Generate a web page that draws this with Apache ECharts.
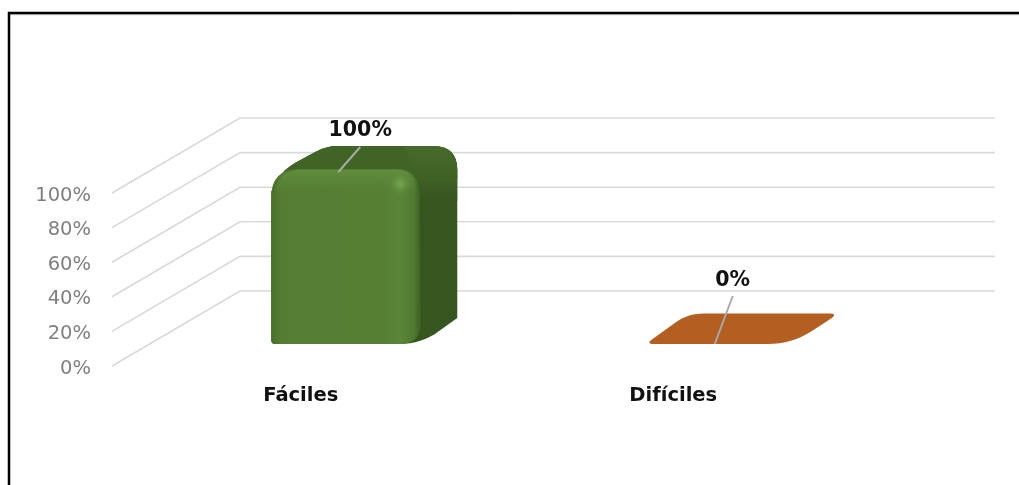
<!DOCTYPE html>
<html>
<head>
<meta charset="utf-8">
<style>html,body{margin:0;padding:0;background:#fff}#c{width:1019px;height:485px}</style>
<script src="https://cdn.jsdelivr.net/npm/echarts@6/dist/echarts.min.js"></script>
</head>
<body>
<div id="c"></div>
<script>
const categories = ['Fáciles', 'Difíciles'];
const values = [100, 0];
const yTicks = [0, 20, 40, 60, 80, 100];

// drawing constants of the pseudo-3D projection (pixels)
const WALL = [128, -75];
const FONT = '"DejaVu Sans", Verdana, sans-serif';
const looks = [
  { face: '#567e33', top: '#3f6426', side: '#37551f', lead: [[67, -172], [89, -197]], lab: [89, -213] },
  { face: '#b45f22', top: '#b45f22', side: '#b45f22', lead: [[66, 0], [84, -48]], lab: [84, -63] }
];

function roundPoly(pts, ox, oy) {
  const out = [], n = pts.length;
  for (let i = 0; i < n; i++) {
    const p = pts[i], a = pts[(i + n - 1) % n], b = pts[(i + 1) % n], r = p[2] || 0;
    const la = Math.hypot(a[0] - p[0], a[1] - p[1]), lb = Math.hypot(b[0] - p[0], b[1] - p[1]);
    const s = [p[0] + (a[0] - p[0]) * r / la, p[1] + (a[1] - p[1]) * r / la];
    const e = [p[0] + (b[0] - p[0]) * r / lb, p[1] + (b[1] - p[1]) * r / lb];
    for (let k = 0; k <= 8; k++) {
      const t = k / 8, u = 1 - t;
      out.push([ox + u * u * s[0] + 2 * u * t * p[0] + t * t * e[0], oy + u * u * s[1] + 2 * u * t * p[1] + t * t * e[1]]);
    }
  }
  return out;
}
const grad = (x2, y2, stops) => ({ type: 'linear', x: 0, y: 0, x2, y2,
  colorStops: stops.map(s => ({ offset: s[0], color: s[1] })) });

function renderWall(params, api) {
  const cs = params.coordSys;
  const y = api.coord([0, api.value(0)])[1];
  return { type: 'polyline', silent: true,
    shape: { points: [[cs.x, y], [cs.x + WALL[0], y + WALL[1]], [cs.x + cs.width + WALL[0], y + WALL[1]]] },
    style: { fill: null, stroke: '#d9d9d9', lineWidth: 1.6 } };
}

function renderBar(params, api) {
  const i = params.dataIndex, v = api.value(1);
  const base = api.coord([api.value(0), 0]), top = api.coord([api.value(0), v]);
  const h = base[1] - top[1], L = looks[i];
  const x0 = base[0] - 29.5, y0 = base[1] - 22;
  const kids = [];
  const poly = (pts, fill) => kids.push({ type: 'polygon', silent: true, shape: { points: roundPoly(pts, x0, y0) }, style: { fill } });
  if (h > 0.5) {
    // silhouette: side face
    poly([[0, -h + 5, 28], [55, -h - 25, 12], [186, -h - 25, 24], [186, -26, 0], [150, 0, 22], [0, 0, 4]], L.side);
    // top face
    poly([[0, -h + 5, 28], [55, -h - 25, 12], [186, -h - 25, 24], [186, -h + 8, 0], [150, -h + 14, 0], [0, -h + 20, 0]], L.top);
    // lighter rounded corner of the top face, fading into the side
    poly([[134, -h - 25, 0], [186, -h - 25, 24], [186, -h + 30, 0], [150, -h + 30, 0]],
      grad(0, 1, [[0, '#466b2b'], [0.45, '#416427'], [1, L.side]]));
    // front face
    poly([[0, -h - 2, 28], [148, -h - 2, 24], [150, 0, 22], [0, 0, 4]],
      grad(1, 0, [[0, '#4a6f2b'], [0.07, '#557d33'], [0.74, '#567e33'], [0.86, '#5a8639'], [0.95, '#4f7a30'], [1, '#3d5f24']]));
    poly([[4, -h - 1, 26], [144, -h - 1, 20], [144, -h + 22, 0], [4, -h + 22, 0]],
      grad(0, 1, [[0, 'rgba(98,142,62,0.9)'], [0.6, 'rgba(92,134,57,0.5)'], [1, 'rgba(86,126,51,0)']]));
    kids.push({ type: 'circle', silent: true, shape: { cx: x0 + 129, cy: y0 - h + 13, r: 11 },
      style: { fill: { type: 'radial', x: 0.5, y: 0.5, r: 0.5, colorStops: [
        { offset: 0, color: 'rgba(116,168,80,1)' }, { offset: 1, color: 'rgba(100,150,66,0)' }] } } });
  } else {
    poly([[-3, 0, 8], [39, -30.5, 16], [190, -30.5, 10], [143, 0, 24]], L.top);
  }
  const leadAt = p => [x0 + p[0], y0 + p[1] - (i === 0 ? h - 173 : 0)];
  kids.push({ type: 'line', silent: true,
    shape: { x1: leadAt(L.lead[0])[0], y1: leadAt(L.lead[0])[1], x2: leadAt(L.lead[1])[0], y2: leadAt(L.lead[1])[1] },
    style: { stroke: '#a9a9a9', lineWidth: 2 } });
  kids.push({ type: 'text', silent: true,
    style: { x: x0 + L.lab[0], y: y0 + L.lab[1], text: v + '%', align: 'center', verticalAlign: 'middle',
      fill: '#111', font: 'bold 20.5px ' + FONT } });
  return { type: 'group', children: kids };
}

const chart = echarts.init(document.getElementById('c'));
chart.setOption({
  animation: false,
  backgroundColor: '#fff',
  grid: { left: 112, width: 755, top: 193, bottom: 119 },
  xAxis: { type: 'category', data: categories,
    axisLine: { show: false }, axisTick: { show: false }, splitLine: { show: false },
    axisLabel: { margin: 20, color: '#111', fontFamily: FONT, fontWeight: 'bold', fontSize: 19.5,
      formatter: (v, i) => i === 1 ? '{d|' + v + '}' : v,
      rich: { d: { padding: [0, 10, 0, 0], color: '#111', fontFamily: FONT, fontWeight: 'bold', fontSize: 19.5 } } } },
  yAxis: { type: 'value', min: 0, max: 100, interval: 20,
    axisLine: { show: false }, axisTick: { show: false }, splitLine: { show: false },
    axisLabel: { margin: 21, formatter: v => '{t|' + v + '%}', color: '#7f7f7f', fontFamily: FONT, fontSize: 19.5,
      rich: { t: { padding: [5, 0, 0, 0], color: '#7f7f7f', fontFamily: FONT, fontSize: 19.5 } } } },
  series: [
    { type: 'custom', name: 'wall', z: 1, clip: false, silent: true, renderItem: renderWall,
      data: yTicks.map(v => [v]), encode: { y: 0 }, coordinateSystem: 'cartesian2d' },
    { type: 'custom', name: 'bars', z: 2, clip: false, renderItem: renderBar,
      data: categories.map((c, i) => [i, values[i]]), encode: { x: 0, y: 1 } }
  ],
  graphic: [
    { type: 'polyline', silent: true, z: 10,
      shape: { points: [[9, 485], [9, 13], [1019, 13]] },
      style: { fill: null, stroke: '#000', lineWidth: 2.5 } },
    { type: 'line', silent: true, z: 9, shape: { x1: 10, y1: 14.7, x2: 1019, y2: 14.7 }, style: { stroke: '#c8c8c8', lineWidth: 1 } }
  ]
});
</script>
</body>
</html>
